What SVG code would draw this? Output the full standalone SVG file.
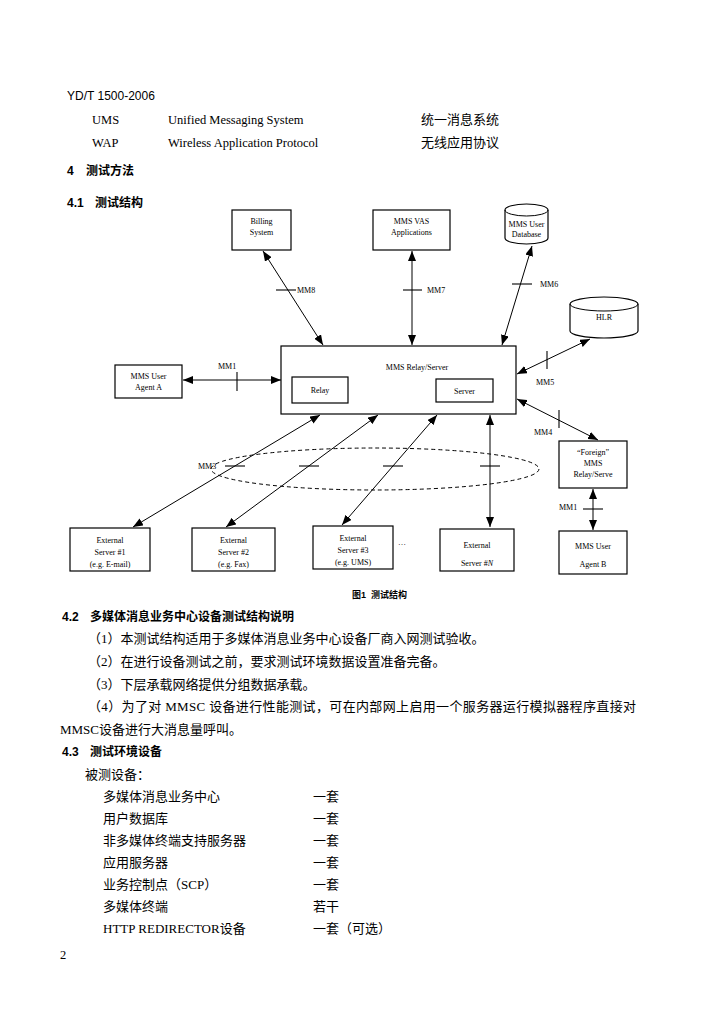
<svg xmlns="http://www.w3.org/2000/svg" width="701" height="1024" viewBox="0 0 701 1024">
<style>
.bg{fill:#fff}
.box{fill:#fff;stroke:#000;stroke-width:1.2}
.ln{stroke:#000;stroke-width:1;fill:none}
.tk{stroke:#000;stroke-width:1.1;fill:none}
.dl{text-anchor:middle;font-family:"Liberation Serif",serif;font-size:8px;fill:#000}
.lb{font-family:"Liberation Serif",serif;font-size:8px;fill:#000}
.hd{font-family:"Liberation Sans",sans-serif;font-size:12px;fill:#000}
.en{font-family:"Liberation Serif",serif;font-size:12.5px;fill:#000}
.cn{font-family:"Liberation Serif","Noto Sans CJK SC",serif;font-size:13px;fill:#000}
.bd{font-family:"Liberation Sans","Noto Sans CJK SC",sans-serif;font-size:12px;font-weight:bold;fill:#000}
</style>
<defs>
<marker id="ah" viewBox="0 0 10 8" refX="10" refY="4" markerWidth="10" markerHeight="8" markerUnits="userSpaceOnUse" orient="auto-start-reverse">
<path d="M0,0 L10,4 L0,8 Z" fill="#000"/>
</marker>
</defs>
<rect class="bg" x="0" y="0" width="701" height="1024"/>

<g id="header">
<text class="hd" x="67" y="100">YD/T 1500-2006</text>
<text class="en" x="92" y="124">UMS</text>
<text class="en" x="168" y="124">Unified Messaging System</text>
<text class="cn" x="421" y="124">统一消息系统</text>
<text class="en" x="92" y="147">WAP</text>
<text class="en" x="168" y="147">Wireless Application Protocol</text>
<text class="cn" x="421" y="147">无线应用协议</text>
<text class="bd" x="67" y="175">4</text>
<text class="bd" x="86" y="175">测试方法</text>
<text class="bd" x="67" y="207">4.1</text>
<text class="bd" x="95" y="207">测试结构</text>
</g>

<g id="connectors">
<line class="ln" x1="263" y1="251" x2="323" y2="345" marker-start="url(#ah)" marker-end="url(#ah)"/>
<line class="ln" x1="412" y1="251" x2="412" y2="345" marker-start="url(#ah)" marker-end="url(#ah)"/>
<line class="ln" x1="532" y1="246" x2="502" y2="345" marker-start="url(#ah)" marker-end="url(#ah)"/>
<line class="ln" x1="590" y1="339" x2="517" y2="374" marker-start="url(#ah)" marker-end="url(#ah)"/>
<line class="ln" x1="517" y1="399" x2="598" y2="440" marker-start="url(#ah)" marker-end="url(#ah)"/>
<line class="ln" x1="183" y1="380" x2="281" y2="380" marker-start="url(#ah)" marker-end="url(#ah)"/>
<line class="ln" x1="349" y1="391" x2="435" y2="391" marker-start="url(#ah)" marker-end="url(#ah)"/>
<line class="ln" x1="593" y1="489" x2="593" y2="530" marker-start="url(#ah)" marker-end="url(#ah)"/>
<line class="ln" x1="320" y1="415" x2="133" y2="527" marker-start="url(#ah)" marker-end="url(#ah)"/>
<line class="ln" x1="378" y1="415" x2="226" y2="527" marker-start="url(#ah)" marker-end="url(#ah)"/>
<line class="ln" x1="437" y1="415" x2="342" y2="525" marker-start="url(#ah)" marker-end="url(#ah)"/>
<line class="ln" x1="490" y1="415" x2="490" y2="527" marker-start="url(#ah)" marker-end="url(#ah)"/>
<ellipse class="ln" cx="375" cy="469" rx="164" ry="21" stroke-dasharray="4,3"/>
<line class="tk" x1="276" y1="290" x2="296" y2="290"/>
<line class="tk" x1="403" y1="290" x2="422" y2="290"/>
<line class="tk" x1="512" y1="284" x2="532" y2="284"/>
<line class="tk" x1="547" y1="351" x2="547" y2="369"/>
<line class="tk" x1="559" y1="410" x2="559" y2="428"/>
<line class="tk" x1="237" y1="372" x2="237" y2="391"/>
<line class="tk" x1="392" y1="381" x2="392" y2="397"/>
<line class="tk" x1="583" y1="509" x2="603" y2="509"/>
<line class="tk" x1="225" y1="466" x2="245" y2="466"/>
<line class="tk" x1="299" y1="466" x2="319" y2="466"/>
<line class="tk" x1="383" y1="466" x2="403" y2="466"/>
<line class="tk" x1="480" y1="466" x2="500" y2="466"/>
<text class="lb" x="297" y="293">MM8</text>
<text class="lb" x="427" y="293">MM7</text>
<text class="lb" x="540" y="287">MM6</text>
<text class="lb" x="536" y="385">MM5</text>
<text class="lb" x="534" y="435">MM4</text>
<text class="lb" x="218" y="369">MM1</text>
<text class="lb" x="398" y="406">MM2</text>
<text class="lb" x="559" y="510">MM1</text>
<text class="lb" x="198" y="469">MM3</text>
</g>

<g id="billing">
<rect class="box" x="232" y="210" width="59" height="40"/>
<text class="dl" x="261.5" y="224">Billing</text>
<text class="dl" x="261.5" y="235">System</text>
</g>
<g id="vas">
<rect class="box" x="373" y="210" width="77" height="40"/>
<text class="dl" x="411.5" y="224">MMS VAS</text>
<text class="dl" x="411.5" y="235">Applications</text>
</g>
<g id="userdb">
<path class="box" d="M505,210 A21.5,6 0 0 1 548,210 L548,238 A21.5,6 0 0 1 505,238 Z"/>
<path class="ln" d="M505,210 A21.5,6 0 0 0 548,210"/>
<text class="dl" x="526.5" y="227">MMS User</text>
<text class="dl" x="526.5" y="237">Database</text>
</g>
<g id="hlr">
<path class="box" d="M570,304 A34,7 0 0 1 638,304 L638,331 A34,7 0 0 1 570,331 Z"/>
<path class="ln" d="M570,304 A34,7 0 0 0 638,304"/>
<text class="dl" x="604" y="320">HLR</text>
</g>
<g id="agentA">
<rect class="box" x="115" y="365" width="67" height="33"/>
<text class="dl" x="148.5" y="379">MMS User</text>
<text class="dl" x="148.5" y="390">Agent A</text>
</g>
<g id="relayserver">
<rect class="box" x="281" y="346" width="235" height="68"/>
<text class="dl" x="417" y="370">MMS Relay/Server</text>
</g>
<g id="relay">
<rect class="box" x="292" y="377" width="56" height="26"/>
<text class="dl" x="320" y="393">Relay</text>
</g>
<g id="server">
<rect class="box" x="436" y="379" width="57" height="23"/>
<text class="dl" x="464.5" y="394">Server</text>
</g>
<g id="foreign">
<rect class="box" x="559" y="441" width="68" height="47"/>
<text class="dl" x="593" y="455">“Foreign”</text>
<text class="dl" x="593" y="466">MMS</text>
<text class="dl" x="593" y="477">Relay/Serve</text>
</g>
<g id="agentB">
<rect class="box" x="559" y="531" width="68" height="43"/>
<text class="dl" x="593" y="549">MMS User</text>
<text class="dl" x="593" y="567">Agent B</text>
</g>
<g id="ext1">
<rect class="box" x="70" y="528" width="80" height="43"/>
<text class="dl" x="110" y="543">External</text>
<text class="dl" x="110" y="555">Server #1</text>
<text class="dl" x="110" y="567">(e.g. E-mail)</text>
</g>
<g id="ext2">
<rect class="box" x="192" y="528" width="83" height="43"/>
<text class="dl" x="233.5" y="543">External</text>
<text class="dl" x="233.5" y="555">Server #2</text>
<text class="dl" x="233.5" y="567">(e.g. Fax)</text>
</g>
<g id="ext3">
<rect class="box" x="313" y="526" width="80" height="43"/>
<text class="dl" x="353" y="541">External</text>
<text class="dl" x="353" y="553">Server #3</text>
<text class="dl" x="353" y="565">(e.g. UMS)</text>
</g>
<text class="dl" x="402" y="545">…</text>
<g id="extN">
<rect class="box" x="440" y="529" width="74" height="42"/>
<text class="dl" x="477" y="548">External</text>
<text class="dl" x="477" y="566">Server #<tspan font-style="italic">N</tspan></text>
</g>
<text class="bd" x="352" y="598" style="font-size:9px">图1</text>
<text class="bd" x="371" y="598" style="font-size:9px">测试结构</text>

<g id="body">
<text class="bd" x="62" y="621">4.2</text>
<text class="bd" x="90" y="621">多媒体消息业务中心设备测试结构说明</text>
<text class="cn" x="88" y="643">（1）本测试结构适用于多媒体消息业务中心设备厂商入网测试验收。</text>
<text class="cn" x="88" y="666">（2）在进行设备测试之前，要求测试环境数据设置准备完备。</text>
<text class="cn" x="88" y="689">（3）下层承载网络提供分组数据承载。</text>
<text class="cn" x="88" y="711" textLength="548" lengthAdjust="spacing">（4）为了对 MMSC 设备进行性能测试，可在内部网上启用一个服务器运行模拟器程序直接对</text>
<text class="cn" x="60" y="734">MMSC设备进行大消息量呼叫。</text>
<text class="bd" x="62" y="756">4.3</text>
<text class="bd" x="90" y="756">测试环境设备</text>
<text class="cn" x="85" y="779">被测设备：</text>
<text class="cn" x="103" y="801">多媒体消息业务中心</text>
<text class="cn" x="313" y="801">一套</text>
<text class="cn" x="103" y="823">用户数据库</text>
<text class="cn" x="313" y="823">一套</text>
<text class="cn" x="103" y="845">非多媒体终端支持服务器</text>
<text class="cn" x="313" y="845">一套</text>
<text class="cn" x="103" y="867">应用服务器</text>
<text class="cn" x="313" y="867">一套</text>
<text class="cn" x="103" y="889">业务控制点（SCP）</text>
<text class="cn" x="313" y="889">一套</text>
<text class="cn" x="103" y="911">多媒体终端</text>
<text class="cn" x="313" y="911">若干</text>
<text class="cn" x="103" y="933">HTTP REDIRECTOR设备</text>
<text class="cn" x="313" y="933">一套（可选）</text>
<text class="en" x="60" y="959">2</text>
</g>
</svg>
